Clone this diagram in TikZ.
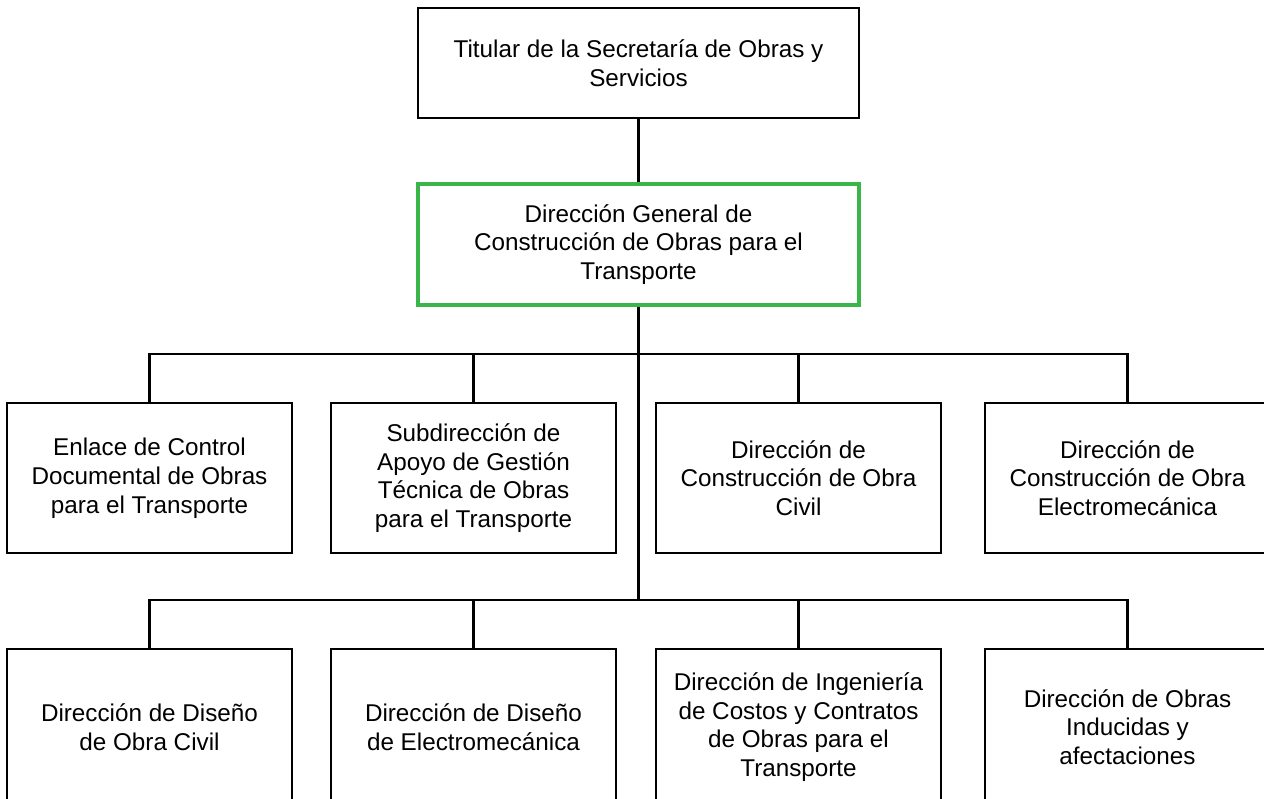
\documentclass[tikz,border=0pt]{standalone}
\usepackage{fontspec}
\setmainfont{Liberation Sans}
\definecolor{verde}{RGB}{57,181,74}
\tikzset{
caja/.style={draw,line width=1.3pt,align=center,inner sep=2pt,
  font=\fontsize{13.8}{16.4}\selectfont},
titular/.style={caja,minimum width=8.82cm,minimum height=2.2cm},
general/.style={titular,draw=verde,line width=2pt,minimum height=2.42cm},
area/.style={caja,minimum width=5.7cm,minimum height=3cm},
area baja/.style={area,minimum height=3.12cm},
linea/.style={line width=1.3pt}}

\begin{document}
\begin{tikzpicture}[x=0.02cm,y=-0.02cm]
\useasboundingbox (0,0) rectangle (1264,798);

\node[titular] (t) at (638.5,63) {Titular de la Secretaría de Obras y\\Servicios};
\node[general] (g) at (638.5,244.5) {Dirección General de\\Construcción de Obras para el\\Transporte};

\node[area] (a1) at (149.5,478) {Enlace de Control\\Documental de Obras\\para el Transporte};
\node[area] (a2) at (473.5,478) {Subdirección de\\Apoyo de Gestión\\Técnica de Obras\\para el Transporte};
\node[area] (a3) at (798.5,478) {Dirección de\\Construcción de Obra\\Civil};
\node[area] (a4) at (1127.5,478) {Dirección de\\Construcción de Obra\\Electromecánica};

\node[area baja] (b1) at (149.5,727) {Dirección de Diseño\\de Obra Civil};
\node[area baja] (b2) at (473.5,727) {Dirección de Diseño\\de Electromecánica};
\node[area baja] (b3) at (798.5,727) {Dirección de Ingeniería\\de Costos y Contratos\\de Obras para el\\Transporte};
\node[area baja] (b4) at (1127.5,727) {Dirección de Obras\\Inducidas y\\afectaciones};

\coordinate (r1) at (638.5,354);
\coordinate (r2) at (638.5,600);

\draw[linea] (t) -- (g);
\draw[linea] (g) -- (r2);

\draw[linea] (r1) -| (a1);
\draw[linea] (r1) -| (a2);
\draw[linea] (r1) -| (a3);
\draw[linea] (r1) -| (a4);

\draw[linea] (r2) -| (b1);
\draw[linea] (r2) -| (b2);
\draw[linea] (r2) -| (b3);
\draw[linea] (r2) -| (b4);

\end{tikzpicture}
\end{document}
